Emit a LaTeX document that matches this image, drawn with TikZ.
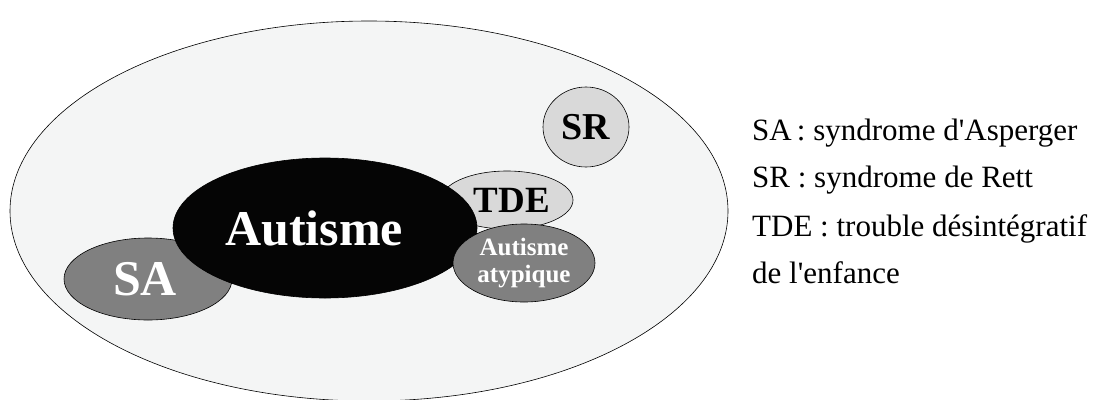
\documentclass[tikz,border=0pt]{standalone}
\usepackage{fontspec}
\setmainfont{Liberation Serif}
\usetikzlibrary{shapes.geometric}
\definecolor{OuterClr}{rgb}{0.957,0.961,0.961}
\definecolor{LightClr}{rgb}{0.85,0.85,0.85}
\definecolor{GreyClr}{rgb}{0.5,0.5,0.5}
\definecolor{DarkClr}{rgb}{0.02,0.02,0.02}
\tikzset{
  blob/.style={ellipse,draw=black,line width=0.6pt,inner sep=0pt},
  legend/.style={anchor=base west,inner sep=0pt,font=\fontsize{31}{31}\selectfont}
}

\begin{document}
\begin{tikzpicture}[x=1pt,y=-1pt]
\useasboundingbox (0,0) rectangle (1107,399);

\node[blob,fill=OuterClr,minimum width=718,minimum height=380] (outer) at (369,211) {};

\node[blob,fill=LightClr,minimum width=86,minimum height=80,font=\bfseries\fontsize{38}{38}\selectfont] (SR) at (586,127) {SR};
\node[blob,fill=LightClr,minimum width=132,minimum height=58,font=\bfseries\fontsize{37}{37}\selectfont] (TDE) at (507,200) {\hspace*{10pt}TDE};

\node[blob,fill=GreyClr,minimum width=168,minimum height=82,text=white,font=\bfseries\fontsize{50}{50}\selectfont] (SA) at (148,279) {SA\hspace*{6pt}};
\node[blob,fill=DarkClr,minimum width=304,minimum height=140,text=white,font=\bfseries\fontsize{50}{50}\selectfont] (aut) at (325,228) {Autisme\hspace*{22pt}};
\node[blob,fill=GreyClr,minimum width=142,minimum height=78,text=white,align=center,font=\bfseries\fontsize{25}{27}\selectfont] (atyp) at (524,263) {Autisme\\atypique};

\node[legend] (legSA) at (752,140) {SA\,: syndrome d\textquotesingle Asperger};
\node[legend] (legSR) at (752,187) {SR : syndrome de Rett};
\node[legend] (legTDE) at (752,236) {TDE : trouble désintégratif};
\node[legend] (legenf) at (752,283) {de l\textquotesingle enfance};

\end{tikzpicture}
\end{document}
